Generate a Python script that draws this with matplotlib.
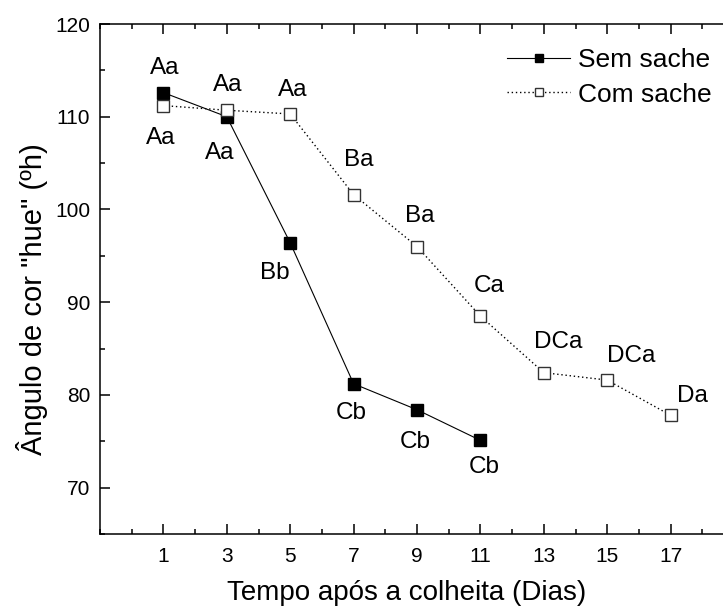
import matplotlib
matplotlib.use('Agg')
import matplotlib.pyplot as plt
from matplotlib.ticker import MultipleLocator

plt.rcParams['font.family'] = ['Liberation Sans', 'DejaVu Sans']

# dias apos a colheita
dias_sem = [1, 3, 5, 7, 9, 11]
hue_sem = [112.6, 110.0, 96.4, 81.2, 78.4, 75.1]
letras_sem = ['Aa', 'Aa', 'Bb', 'Cb', 'Cb', 'Cb']

dias_com = [1, 3, 5, 7, 9, 11, 13, 15, 17]
hue_com = [111.2, 110.7, 110.3, 101.6, 96.0, 88.5, 82.4, 81.6, 77.8]
letras_com = ['Aa', 'Aa', 'Aa', 'Ba', 'Ba', 'Ca', 'DCa', 'DCa', 'Da']

# deslocamento dos rotulos (pontos)
off_sem = [(1, 18), (-5, -26), (-11, -22), (-2, -21), (-1, -23), (3, -19)]
off_com = [(-2, -23), (1, 18), (2, 17), (4, 25), (2, 22), (6, 22), (10, 22), (17, 17), (16, 14)]

fig = plt.figure(figsize=(7.23, 6.10), dpi=100)
ax = fig.add_axes([100 / 723, 76 / 610, 634 / 723, 510 / 610])

ax.plot(dias_sem, hue_sem, color='black', lw=0.8, marker='s', ms=8,
        mfc='black', mec='black', label='Sem sache')
ax.plot(dias_com, hue_com, color='black', lw=1.0, ls=(0, (1, 2)), marker='s', ms=8,
        mfc='white', mec='#333333', mew=1.0, label='Com sache')

for x, y, t, o in zip(dias_sem, hue_sem, letras_sem, off_sem):
    ax.annotate(t, (x, y), xytext=o, textcoords='offset points',
                ha='center', va='center', fontsize=17.5)
for x, y, t, o in zip(dias_com, hue_com, letras_com, off_com):
    ax.annotate(t, (x, y), xytext=o, textcoords='offset points',
                ha='center', va='center', fontsize=17.5)

ax.set_xlim(-1, 19)
ax.set_ylim(65, 120)
ax.set_xticks(dias_com)
ax.xaxis.set_minor_locator(MultipleLocator(1))
ax.set_yticks([70, 80, 90, 100, 110, 120])
ax.yaxis.set_minor_locator(MultipleLocator(5))

ax.tick_params(which='both', direction='in', top=True, right=True, width=1.1, labelsize=15)
ax.tick_params(which='major', length=7)
ax.tick_params(which='minor', length=3.5)
ax.tick_params(axis='x', pad=9)
ax.tick_params(axis='y', pad=7)
for s in ax.spines.values():
    s.set_linewidth(1.1)

ax.set_xlabel('Tempo após a colheita (Dias)', fontsize=20)
ax.xaxis.set_label_coords(0.483, -0.09)
ax.set_ylabel('Ângulo de cor "hue" (ºh)', fontsize=21)
ax.yaxis.set_label_coords(-0.082, 0.46)

leg = ax.legend(loc='upper left', bbox_to_anchor=(507 / 723, 1 - 48 / 610),
                bbox_transform=fig.transFigure, frameon=False, fontsize=19,
                handlelength=2.4, handletextpad=0.3, labelspacing=0.4,
                borderpad=0, borderaxespad=0, markerscale=0.75)

fig.savefig('out.png', dpi=100)
